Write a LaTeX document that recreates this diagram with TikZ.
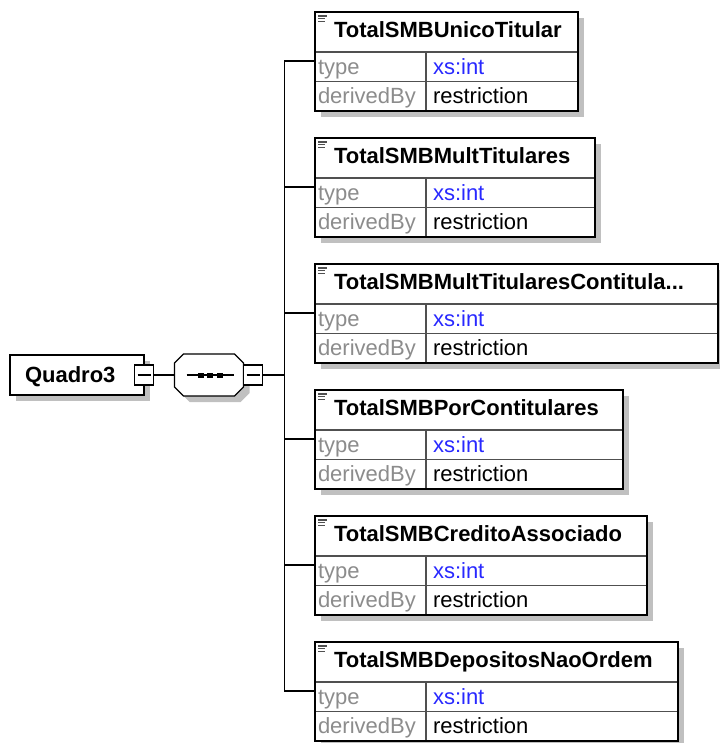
\documentclass[tikz,border=0pt]{standalone}
\usepackage{fontspec}
\setmainfont{Liberation Sans}
\usetikzlibrary{positioning,shadows}
\definecolor{keygray}{RGB}{140,140,140}
\definecolor{typeblue}{RGB}{40,40,255}
\definecolor{gridgray}{RGB}{80,80,80}
\definecolor{shadegray}{RGB}{192,192,192}
\hyphenpenalty=10000

\begin{document}
\begin{tikzpicture}[x=1pt, y=-1pt, font=\fontsize{22}{26}\selectfont]

\tikzstyle{boxshadow} = [drop shadow={shadow xshift=6pt, shadow yshift=-6pt,
fill=shadegray, opacity=1}]
\tikzstyle{rootbox} = [rectangle, draw, line width=1.4pt, fill=white, boxshadow,
font=\fontsize{22}{26}\selectfont\bfseries, text width=104pt, inner xsep=15pt,
inner ysep=0pt, outer sep=0pt, align=left, minimum height=40pt,
text height=15.75pt, text depth=0pt]
\tikzstyle{fold} = [rectangle, draw, line width=1.2pt, fill=white,
minimum width=19pt, minimum height=20pt, inner sep=0pt, outer sep=0pt,
path picture={\draw[line width=1.2pt] ([xshift=3pt]path picture bounding box.west)
-- ([xshift=-3pt]path picture bounding box.east);}]
\tikzstyle{seqbox} = [rectangle, minimum width=69pt, minimum height=42pt,
inner sep=0pt, outer sep=0pt]
\tikzstyle{head} = [rectangle, draw=gridgray, line width=1.2pt, fill=white, boxshadow,
font=\fontsize{22}{26}\selectfont\bfseries, inner xsep=19pt, inner ysep=0pt,
outer sep=0pt, align=left, minimum height=40pt, text height=16pt, text depth=5.5pt,
anchor=north west,
path picture={\draw[line width=1.3pt]
([shift={(3pt,-4pt)}]path picture bounding box.north west) -- ++(9pt,0pt)
([shift={(3pt,-6.8pt)}]path picture bounding box.north west) -- ++(7pt,0pt)
([shift={(3pt,-9.6pt)}]path picture bounding box.north west) -- ++(7pt,0pt);}]
\tikzstyle{keycell} = [rectangle, draw=gridgray, line width=1.2pt, fill=white,
boxshadow, text=keygray, text width=105pt, inner xsep=3pt, inner ysep=0pt,
outer sep=0pt, align=left, minimum height=29.5pt, text height=18pt, text depth=3pt]
\tikzstyle{valcell} = [keycell, text=black, inner xsep=7pt]
\tikzstyle{outline} = [draw, line width=1.5pt]
\tikzstyle{line} = [draw, line width=1.4pt]

\useasboundingbox (0,0) rectangle (719,743);

% root element and its sequence
\node [rootbox] (q3) at (77,375) {Quadro3};
\node [fold] (qm) at (q3.east) {};
\node [seqbox, right=21pt of qm] (seq) {};
\path [line, fill=white, boxshadow] ([xshift=9pt]seq.north west)
-- ([xshift=-9pt]seq.north east) -- ([yshift=-9pt]seq.north east)
-- ([yshift=9pt]seq.south east) -- ([xshift=-9pt]seq.south east)
-- ([xshift=9pt]seq.south west) -- ([yshift=9pt]seq.south west)
-- ([yshift=-9pt]seq.north west) -- cycle;
\node [fold, right=0pt of seq] (sm) {};
\draw [line width=1.2pt] ([xshift=12pt]seq.west) -- ([xshift=-10pt]seq.east);
\fill ([xshift=-8.5pt]seq.center) +(-3pt,-2.5pt) rectangle +(3pt,2.5pt);
\fill ([xshift=1pt]seq.center) +(-3pt,-2.5pt) rectangle +(3pt,2.5pt);
\fill ([xshift=10.5pt]seq.center) +(-3pt,-2.5pt) rectangle +(3pt,2.5pt);

% child elements
\node [head, text width=225pt] (e1) at (315,12) {TotalSMBUnicoTitular};
\node [keycell, below=0pt of e1.south west, anchor=north west] (e1t) {type};
\node [valcell, text width=138pt, right=0pt of e1t] (e1tv) {\textcolor{typeblue}{xs:int}};
\node [keycell, below=0pt of e1t] (e1d) {derivedBy};
\node [valcell, text width=138pt, right=0pt of e1d] (e1dv) {restriction};
\path [outline] (e1.north west) rectangle (e1dv.south east);

\node [head, text width=242pt, below=27pt of e1d.south west, anchor=north west] (e2)
{TotalSMBMultTitulares};
\node [keycell, below=0pt of e2.south west, anchor=north west] (e2t) {type};
\node [valcell, text width=155pt, right=0pt of e2t] (e2tv) {\textcolor{typeblue}{xs:int}};
\node [keycell, below=0pt of e2t] (e2d) {derivedBy};
\node [valcell, text width=155pt, right=0pt of e2d] (e2dv) {restriction};
\path [outline] (e2.north west) rectangle (e2dv.south east);

\node [head, text width=365pt, below=27pt of e2d.south west, anchor=north west] (e3)
{TotalSMBMultTitularesContitula...};
\node [keycell, below=0pt of e3.south west, anchor=north west] (e3t) {type};
\node [valcell, text width=278pt, right=0pt of e3t] (e3tv) {\textcolor{typeblue}{xs:int}};
\node [keycell, below=0pt of e3t] (e3d) {derivedBy};
\node [valcell, text width=278pt, right=0pt of e3d] (e3dv) {restriction};
\path [outline] (e3.north west) rectangle (e3dv.south east);

\node [head, text width=270pt, below=27pt of e3d.south west, anchor=north west] (e4)
{TotalSMBPorContitulares};
\node [keycell, below=0pt of e4.south west, anchor=north west] (e4t) {type};
\node [valcell, text width=183pt, right=0pt of e4t] (e4tv) {\textcolor{typeblue}{xs:int}};
\node [keycell, below=0pt of e4t] (e4d) {derivedBy};
\node [valcell, text width=183pt, right=0pt of e4d] (e4dv) {restriction};
\path [outline] (e4.north west) rectangle (e4dv.south east);

\node [head, text width=294pt, below=27pt of e4d.south west, anchor=north west] (e5)
{TotalSMBCreditoAssociado};
\node [keycell, below=0pt of e5.south west, anchor=north west] (e5t) {type};
\node [valcell, text width=207pt, right=0pt of e5t] (e5tv) {\textcolor{typeblue}{xs:int}};
\node [keycell, below=0pt of e5t] (e5d) {derivedBy};
\node [valcell, text width=207pt, right=0pt of e5d] (e5dv) {restriction};
\path [outline] (e5.north west) rectangle (e5dv.south east);

\node [head, text width=325pt, below=27pt of e5d.south west, anchor=north west] (e6)
{TotalSMBDepositosNaoOrdem};
\node [keycell, below=0pt of e6.south west, anchor=north west] (e6t) {type};
\node [valcell, text width=238pt, right=0pt of e6t] (e6tv) {\textcolor{typeblue}{xs:int}};
\node [keycell, below=0pt of e6t] (e6d) {derivedBy};
\node [valcell, text width=238pt, right=0pt of e6d] (e6dv) {restriction};
\path [outline] (e6.north west) rectangle (e6dv.south east);

% connectors
\coordinate [right=22pt of sm] (fork);
\coordinate (j1) at ([yshift=-9pt]e1t.north west);
\coordinate (j2) at ([yshift=-9pt]e2t.north west);
\coordinate (j3) at ([yshift=-9pt]e3t.north west);
\coordinate (j4) at ([yshift=-9pt]e4t.north west);
\coordinate (j5) at ([yshift=-9pt]e5t.north west);
\coordinate (j6) at ([yshift=-9pt]e6t.north west);

\path [line] (qm) -- (seq);
\path [line] (sm) -- (fork);
\path [line] (j1) -- (j1 -| fork) -- (j6 -| fork) -- (j6);
\path [line] (j2 -| fork) -- (j2);
\path [line] (j3 -| fork) -- (j3);
\path [line] (j4 -| fork) -- (j4);
\path [line] (j5 -| fork) -- (j5);
\end{tikzpicture}
\end{document}
